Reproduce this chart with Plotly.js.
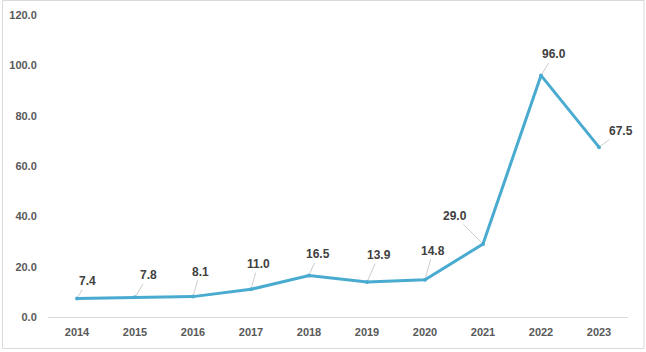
<!DOCTYPE html>
<html>
<head>
<meta charset="utf-8">
<script src="https://cdn.plot.ly/plotly-3.0.1.min.js"></script>
<style>
html,body{margin:0;padding:0;background:#fff;}
#chart{width:646px;height:352px;}
</style>
</head>
<body>
<div id="chart"></div>
<script>
const years = ['2014','2015','2016','2017','2018','2019','2020','2021','2022','2023'];
const values = [7.4, 7.8, 8.1, 11.0, 16.5, 13.9, 14.8, 29.0, 96.0, 67.5];
const labelDX = [10, 13, 7, 7, 9, 12, 8, -28, 13, 22];
const labelDY = [-17, -22, -25, -25, -21, -27, -29, -28, -21, -16];
const yTicks = [0, 20, 40, 60, 80, 100, 120];

const trace = {
  x: years,
  y: values,
  type: 'scatter',
  mode: 'lines+markers',
  line: {color: '#4aabd1', width: 3},
  marker: {color: '#4aabd1', size: 4},
  hoverinfo: 'skip'
};

const annotations = years.map((yr, i) => ({
  x: i, y: values[i], xref: 'x', yref: 'y',
  text: '<b>' + values[i].toFixed(1) + '</b>',
  showarrow: true, arrowhead: 0, arrowwidth: 0.8, arrowcolor: '#bfbfbf',
  ax: labelDX[i], ay: labelDY[i], axref: 'pixel', ayref: 'pixel', standoff: 2,
  font: {family: 'Liberation Sans, Arial, sans-serif', size: 12, color: '#404040'}
}));

const layout = {
  width: 646, height: 352,
  margin: {l: 48, r: 18, t: 15, b: 35},
  paper_bgcolor: '#ffffff', plot_bgcolor: '#ffffff',
  showlegend: false,
  font: {family: 'Liberation Sans, Arial, sans-serif'},
  xaxis: {
    type: 'category', range: [-0.5, 9.5],
    showgrid: false, zeroline: false,
    showline: true, linecolor: '#d9d9d9', linewidth: 1,
    ticks: 'outside', ticklen: 5, tickcolor: 'rgba(0,0,0,0)',
    tickfont: {size: 11, color: '#595959', weight: 'bold'}
  },
  yaxis: {
    range: [0, 120], tickvals: yTicks, tickformat: '.1f',
    showgrid: false, zeroline: false, showline: false,
    ticks: 'outside', ticklen: 8, tickcolor: 'rgba(0,0,0,0)',
    tickfont: {size: 11, color: '#595959', weight: 'bold'}
  },
  annotations: annotations,
  shapes: [{
    type: 'rect', xref: 'paper', yref: 'paper',
    x0: (2.5 - 48) / 580, x1: (644 - 48) / 580,
    y0: (317 - 348.5) / 302, y1: (317 - 0.5) / 302,
    line: {color: '#d9d9d9', width: 1}, fillcolor: 'rgba(0,0,0,0)'
  }]
};

Plotly.newPlot('chart', [trace], layout, {displayModeBar: false});
</script>
</body>
</html>
